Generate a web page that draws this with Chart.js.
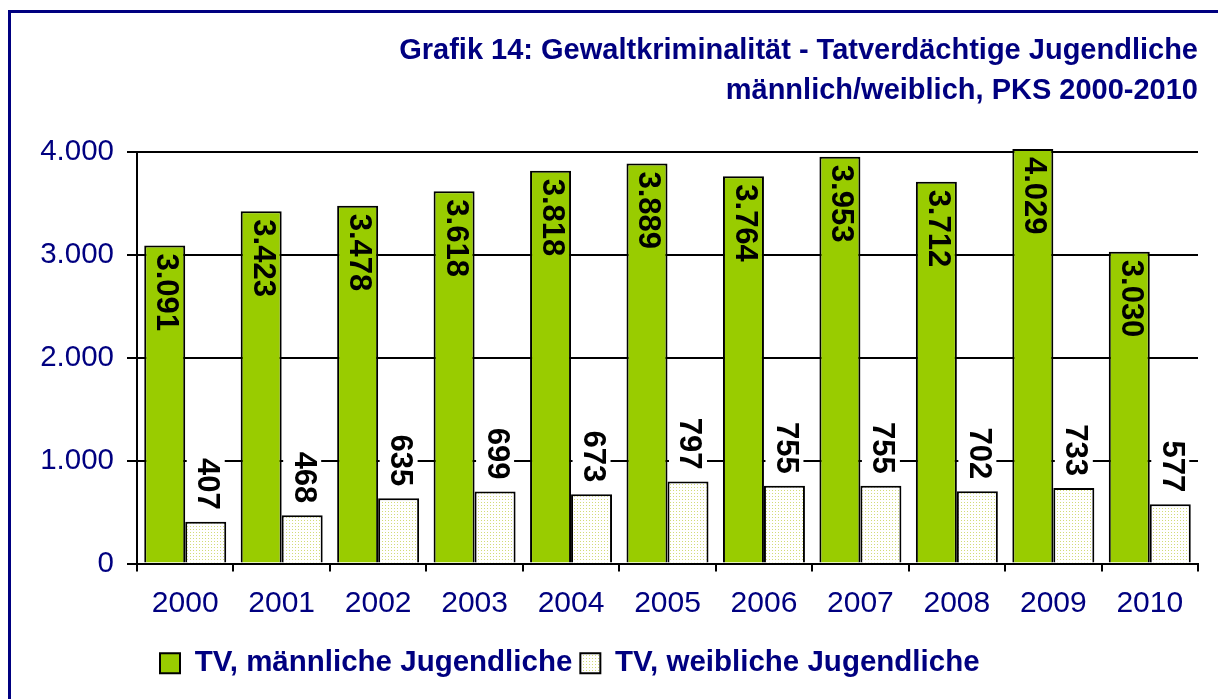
<!DOCTYPE html>
<html>
<head>
<meta charset="utf-8">
<script src="https://cdn.jsdelivr.net/npm/chart.js@4.4.1/dist/chart.umd.min.js"></script>
<style>
  html, body { margin: 0; padding: 0; background: #fff; overflow: hidden; }
  #frame { position: absolute; left: 8px; top: 10px; width: 1300px; height: 800px; border: 3px solid #000080; }
  #wrap { position: absolute; left: 0; top: 0; width: 1218px; height: 699px; }
</style>
</head>
<body>
<div id="frame"></div>
<div id="wrap"><canvas id="gewaltChart" width="1218" height="699"></canvas></div>
<script>
const years = ['2000', '2001', '2002', '2003', '2004', '2005', '2006', '2007', '2008', '2009', '2010'];
const maennlich = [3091, 3423, 3478, 3618, 3818, 3889, 3764, 3953, 3712, 4029, 3030];
const weiblich = [407, 468, 635, 699, 673, 797, 755, 755, 702, 733, 577];
const yTicks = [0, 1000, 2000, 3000, 4000];

const navy = '#000080';
const fontFamily = '"Liberation Sans", Arial, sans-serif';

// 1.000 style thousands
const fmt = v => String(v).replace(/\B(?=(\d{3})+(?!\d))/g, '.');

// white fill with fine yellow-green dots
function dotPattern() {
    const c = document.createElement('canvas');
    c.width = 3;
    c.height = 3;
    const p = c.getContext('2d');
    p.fillStyle = '#ffffff';
    p.fillRect(0, 0, 3, 3);
    p.fillStyle = '#d2dc78';
    p.fillRect(1, 1, 1, 1);
    return p.createPattern(c, 'repeat');
}

const barLabels = {
    id: 'barLabels',
    afterDatasetsDraw(chart) {
        const ctx = chart.ctx;
        ctx.save();
        ctx.font = 'bold 31px ' + fontFamily;
        ctx.textBaseline = 'middle';
        ctx.textAlign = 'left';
        chart.data.datasets.forEach((ds, di) => {
            chart.getDatasetMeta(di).data.forEach((bar, i) => {
                const txt = fmt(ds.data[i]);
                const w = ctx.measureText(txt).width;
                let start;
                if (di === 0) {
                    start = bar.y + 8;
                } else {
                    start = bar.y - 12 - w;
                    ctx.fillStyle = '#ffffff';
                    ctx.fillRect(bar.x - 19, start - 3, 38, bar.y - start + 1);
                }
                ctx.save();
                ctx.translate(bar.x + 1, start);
                ctx.rotate(Math.PI / 2);
                ctx.fillStyle = '#000';
                ctx.fillText(txt, 0, 0);
                ctx.restore();
            });
        });
        ctx.restore();
    }
};

// legend sits left, under the plot
const legendShift = {
    id: 'legendShift',
    afterLayout(chart) {
        chart.legend.left = 160 - chart.options.plugins.legend.labels.padding;
    }
};

const ctx = document.getElementById('gewaltChart').getContext('2d');

const chart = new Chart(ctx, {
    type: 'bar',
    data: {
        labels: years,
        datasets: [{
            label: 'TV, männliche Jugendliche',
            data: maennlich,
            backgroundColor: '#99cc00',
            borderColor: '#000',
            borderWidth: 2,
            borderSkipped: 'bottom',
            clip: false
        }, {
            label: 'TV, weibliche Jugendliche',
            data: weiblich,
            backgroundColor: dotPattern(),
            borderColor: '#000',
            borderWidth: 2,
            borderSkipped: 'bottom',
            clip: false
        }]
    },
    options: {
        responsive: false,
        animation: false,
        layout: { padding: { top: 0, right: 20, bottom: 11, left: 0 } },
        datasets: {
            bar: { categoryPercentage: 0.85, barPercentage: 1 }
        },
        scales: {
            x: {
                afterFit: s => { s.height = 77; },
                grid: { display: true, drawOnChartArea: false, offset: true, color: '#000', lineWidth: 2, tickLength: 8 },
                border: { color: '#000', width: 2 },
                ticks: { color: navy, font: { family: fontFamily, size: 30 }, padding: 14 }
            },
            y: {
                min: 0,
                max: 4000,
                afterFit: s => { s.width = 137; },
                afterBuildTicks: s => { s.ticks = yTicks.map(v => ({ value: v })); },
                grid: { color: '#000', lineWidth: 2, tickLength: 10 },
                border: { color: '#000', width: 2 },
                ticks: {
                    color: navy,
                    font: { family: fontFamily, size: 29.5 },
                    padding: 13,
                    callback: v => fmt(v)
                }
            }
        },
        plugins: {
            title: {
                display: true,
                align: 'end',
                text: ['Grafik 14: Gewaltkriminalität - Tatverdächtige Jugendliche', 'männlich/weiblich, PKS 2000-2010'],
                color: navy,
                font: { family: fontFamily, size: 29, weight: 'bold', lineHeight: '40px' },
                padding: { top: 31, bottom: 41 }
            },
            legend: {
                position: 'bottom',
                align: 'start',
                labels: {
                    boxWidth: 20,
                    boxHeight: 20,
                    padding: 8,
                    color: navy,
                    font: { family: fontFamily, size: 29.5, weight: 'bold' }
                }
            },
            tooltip: { enabled: false }
        }
    },
    plugins: [barLabels, legendShift]
});
</script>
</body>
</html>
